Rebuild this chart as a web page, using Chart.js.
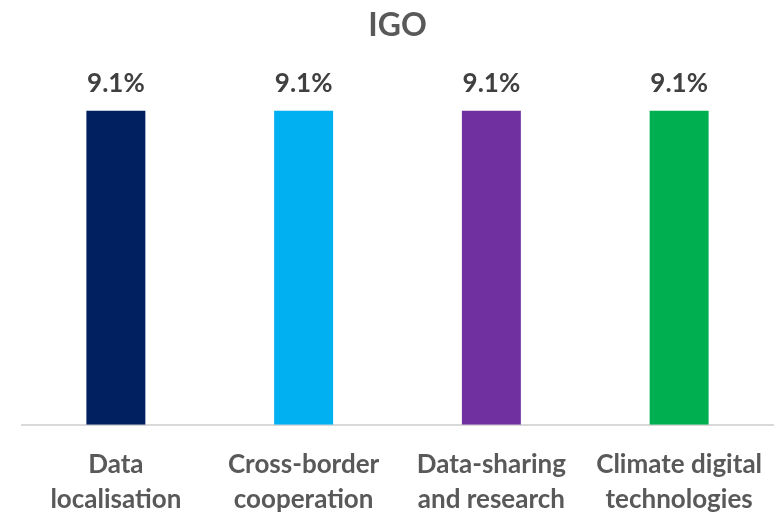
<!DOCTYPE html>
<html>
<head>
<meta charset="utf-8">
<script src="https://cdn.jsdelivr.net/npm/chart.js@4/dist/chart.umd.min.js"></script>
<style>
  html, body { margin: 0; padding: 0; background: #fff; }
  #wrap { width: 784px; height: 513px; position: relative; }
</style>
</head>
<body>
<div id="wrap"><canvas id="chart"></canvas></div>
<script>
// chart data
const categories = [
  ['Data', 'localisation'],
  ['Cross-border', 'cooperation'],
  ['Data-sharing', 'and research'],
  ['Climate digital', 'technologies']
];
const shares = [9.1, 9.1, 9.1, 9.1];
const barColors = ['#002060', '#00B0F0', '#7030A0', '#00B050'];
const chartTitle = 'IGO';

const FONT = 'Lato, Carlito, Calibri, sans-serif';

// writes the % value above each bar
const valueLabels = {
  id: 'valueLabels',
  afterDatasetsDraw(chart) {
    const ctx = chart.ctx;
    const meta = chart.getDatasetMeta(0);
    ctx.save();
    ctx.font = 'bold 26px ' + FONT;
    ctx.fillStyle = '#404040';
    ctx.textAlign = 'center';
    ctx.textBaseline = 'alphabetic';
    meta.data.forEach((bar, i) => {
      ctx.fillText(shares[i].toFixed(1) + '%', bar.x, bar.y - 18);
    });
    ctx.restore();
  }
};

new Chart(document.getElementById('chart').getContext('2d'), {
  type: 'bar',
  data: {
    labels: categories,
    datasets: [{
      data: shares,
      backgroundColor: barColors,
      borderWidth: 0,
      categoryPercentage: 1,
      barPercentage: 0.314
    }]
  },
  options: {
    responsive: true,
    maintainAspectRatio: false,
    animation: false,
    layout: { padding: { left: 22, right: 11, top: 0, bottom: -18 } },
    plugins: {
      legend: { display: false },
      tooltip: { enabled: false },
      title: {
        display: true,
        text: chartTitle,
        color: '#595959',
        font: { family: FONT, size: 32, weight: 'bold', lineHeight: 1.2 },
        padding: { top: 6, bottom: 66 }
      }
    },
    scales: {
      x: {
        grid: { display: false },
        border: { display: true, color: '#d9d9d9', width: 2 },
        ticks: {
          color: '#595959',
          font: { family: FONT, size: 26, weight: 'bold', lineHeight: 1.35 },
          padding: 14,
          maxRotation: 0,
          autoSkip: false
        }
      },
      y: {
        display: false,
        min: 0,
        max: 9.1
      }
    }
  },
  plugins: [valueLabels]
});
</script>
</body>
</html>
